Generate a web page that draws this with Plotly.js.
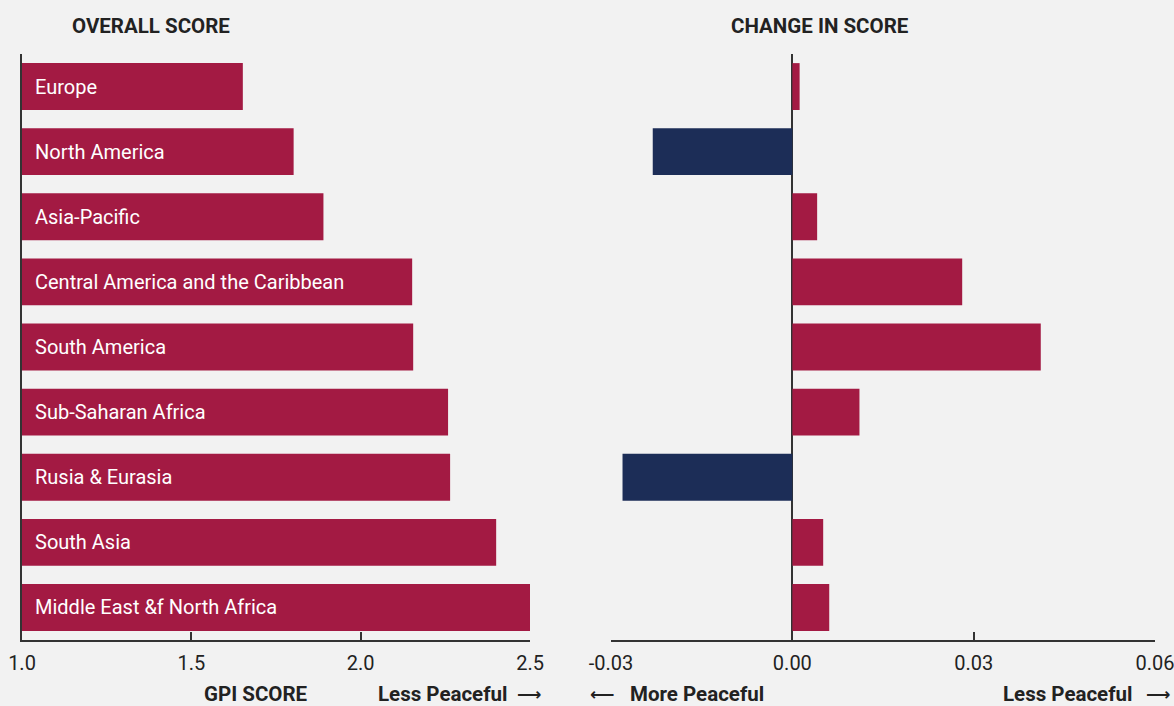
<!DOCTYPE html>
<html>
<head>
<meta charset="utf-8">
<script src="https://cdn.plot.ly/plotly-3.0.1.min.js"></script>
<style>
html,body{margin:0;padding:0;background:#f2f2f2;}
#chart{width:1174px;height:706px;}
</style>
</head>
<body>
<div id="chart"></div>
<script>
const regions = ["Europe","North America","Asia-Pacific","Central America and the Caribbean","South America","Sub-Saharan Africa","Rusia & Eurasia","South Asia","Middle East &f North Africa"];
const overallScore = [1.652, 1.802, 1.890, 2.152, 2.155, 2.258, 2.264, 2.400, 2.506];
const scoreChange = [0.0012, -0.0231, 0.0041, 0.0281, 0.0411, 0.0111, -0.0281, 0.0051, 0.0061];
const xTicksLeft = [1.0, 1.5, 2.0, 2.5];
const xTickLabelsLeft = ["1.0","1.5","2.0","2.5"];
const xTicksRight = [-0.03, 0.0, 0.03, 0.06];
const xTickLabelsRight = ["-0.03","0.00","0.03","0.06"];

const RED = "#a31a43", NAVY = "#1c2d57", AX = "#333333", TXT = "#222222";
const FONT = "Roboto, 'Noto Sans', sans-serif";
const ML = 22;

const traces = [
  {type:"bar", orientation:"h", y:regions, x:overallScore, base:0,
   marker:{color:RED}, xaxis:"x", yaxis:"y", width:0.72},
  {type:"bar", orientation:"h", y:regions, x:scoreChange,
   marker:{color:scoreChange.map(v => v < 0 ? NAVY : RED)}, xaxis:"x2", yaxis:"y2", width:0.72}
];

const annotations = regions.map(r => ({
  x:1.0, y:r, xref:"x", yref:"y", text:r, showarrow:false,
  xanchor:"left", xshift:11, font:{family:FONT, size:20, color:"#ffffff"}
}));
const TS = 20.5;
function lab(text, px, anchor, yshift, size, fam) {
  return {xref:"paper", yref:"paper", x:0, xshift:px - ML, y:yshift > 0 ? 1 : 0, yshift:yshift,
    text:text, showarrow:false, xanchor:anchor, yanchor:"middle",
    font:{family:fam || FONT, size:size || TS, color:TXT}};
}
const AF = "'DejaVu Sans', sans-serif";
annotations.push(
  lab("<b>OVERALL SCORE</b>", 150.5, "center", 28),
  lab("<b>CHANGE IN SCORE</b>", 820, "center", 28),
  lab("<b>GPI SCORE</b>", 255.5, "center", -54),
  lab("<b>Less Peaceful</b>", 376, "left", -54),
  lab("<b>\u27F6</b>", 529, "center", -54, 17, AF),
  lab("<b>\u27F5</b>", 602, "center", -54, 17, AF),
  lab("<b>More Peaceful</b>", 628, "left", -54),
  lab("<b>Less Peaceful</b>", 1001, "left", -54),
  lab("<b>\u27F6</b>", 1158, "center", -54, 17, AF)
);

const layout = {
  width:1174, height:706,
  paper_bgcolor:"#f2f2f2", plot_bgcolor:"#f2f2f2",
  margin:{l:ML, r:19, t:54, b:66},
  showlegend:false,
  bargap:0.28,
  font:{family:FONT, color:TXT},
  xaxis:{domain:[0, 0.4484], range:[1.0, 2.5], tickvals:xTicksLeft, ticktext:xTickLabelsLeft,
    showgrid:false, zeroline:false, showline:true, linecolor:AX, linewidth:2,
    ticks:"inside", ticklen:8, tickwidth:2, tickcolor:AX, ticklabelstandoff:4,
    ticklabeloverflow:"allow",
    tickfont:{family:FONT, size:20, color:TXT}, fixedrange:true},
  yaxis:{domain:[0,1], autorange:"reversed", showticklabels:false, showgrid:false, zeroline:false,
    showline:true, linecolor:AX, linewidth:2, ticks:"", anchor:"x", fixedrange:true},
  xaxis2:{domain:[0.5199, 1], range:[-0.03, 0.06], tickvals:xTicksRight, ticktext:xTickLabelsRight,
    anchor:"y2", showgrid:false, zeroline:true, zerolinecolor:AX, zerolinewidth:2,
    showline:true, linecolor:AX, linewidth:2,
    ticks:"inside", ticklen:8, tickwidth:2, tickcolor:AX, ticklabelstandoff:4,
    ticklabeloverflow:"allow",
    tickfont:{family:FONT, size:20, color:TXT}, fixedrange:true},
  yaxis2:{domain:[0,1], anchor:"x2", autorange:"reversed", showticklabels:false, showgrid:false,
    zeroline:false, showline:false, ticks:"", fixedrange:true},
  annotations:annotations
};

Plotly.newPlot("chart", traces, layout, {displayModeBar:false, staticPlot:true});
</script>
</body>
</html>
